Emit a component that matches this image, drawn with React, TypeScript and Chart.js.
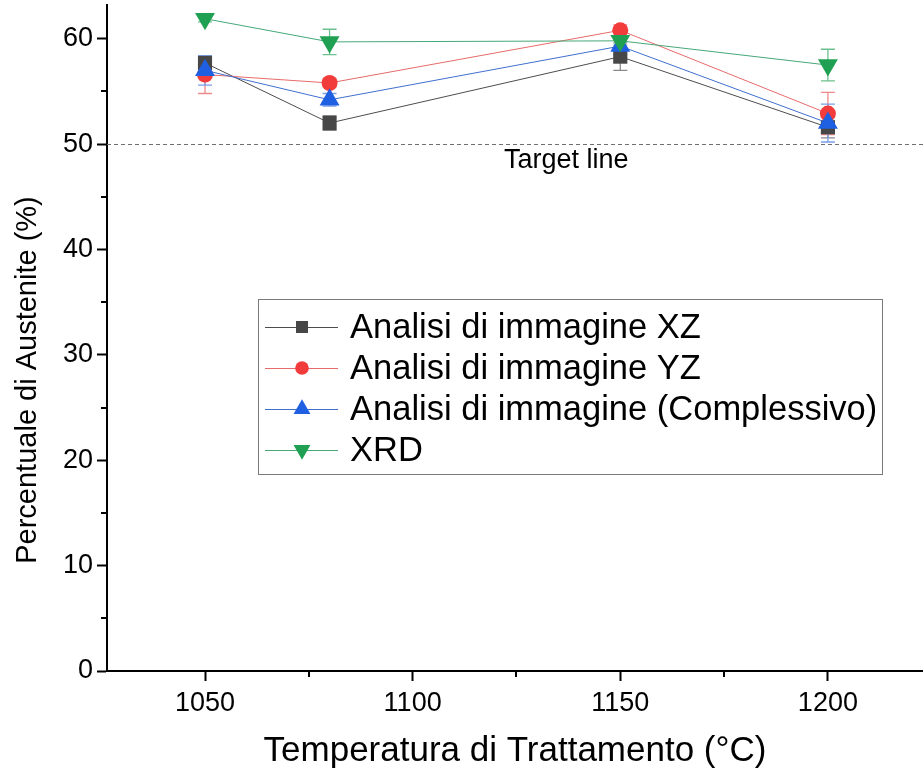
import React, { useEffect, useRef } from 'react';
import { Chart, registerables } from 'chart.js';

Chart.register(...registerables);

const temperatures = [1050, 1080, 1150, 1200];

const xzValues = [57.7, 52.0, 58.3, 51.6];
const xzErrors = [0.5, 0.7, 1.3, 1.0];
const yzValues = [56.6, 55.8, 60.8, 52.9];
const yzErrors = [1.8, 0.4, 0.5, 2.0];
const totalValues = [57.0, 54.2, 59.3, 52.0];
const totalErrors = [1.4, 0.6, 0.8, 1.8];
const xrdValues = [61.9, 59.7, 59.8, 57.5];
const xrdErrors = [0.3, 1.2, 0.4, 1.5];

const seriesNames = [
  'Analisi di immagine XZ',
  'Analisi di immagine YZ',
  'Analisi di immagine (Complessivo)',
  'XRD',
];

const xTicks = [1050, 1100, 1150, 1200];
const xMinorTicks = [1075, 1125, 1175];
const yTicks = [0, 10, 20, 30, 40, 50, 60];
const yMinorTicks = [5, 15, 25, 35, 45, 55];

const targetValue = 50;
const targetLabel = 'Target line';
const targetLabelX = 1137;

const xTitle = 'Temperatura di Trattamento (°C)';
const yTitle = 'Percentuale di Austenite (%)';

const FONT = '"Liberation Sans", Arial, sans-serif';

const styles = [
  { line: '#4d4d4d', fill: '#474747', err: '#8a8a8a', shape: 'rect', r: 10, rot: 0 },
  { line: '#e86a6a', fill: '#f23c3c', err: '#ef8a8a', shape: 'circle', r: 8, rot: 0 },
  { line: '#3f6fcf', fill: '#1f60e2', err: '#7a9ee6', shape: 'triangle', r: 11.5, rot: 0 },
  { line: '#46a877', fill: '#20a052', err: '#6cc08e', shape: 'triangle', r: 11.5, rot: 180 },
];

const seriesValues = [xzValues, yzValues, totalValues, xrdValues];
const seriesErrors = [xzErrors, yzErrors, totalErrors, xrdErrors];

function drawMarker(ctx: CanvasRenderingContext2D, shape: string, x: number, y: number, r: number, rot: number, color: string) {
  ctx.save();
  ctx.fillStyle = color;
  ctx.beginPath();
  if (shape === 'rect') {
    const s = r * Math.SQRT1_2;
    ctx.rect(x - s, y - s, 2 * s, 2 * s);
  } else if (shape === 'circle') {
    ctx.arc(x, y, r, 0, Math.PI * 2);
  } else {
    const a = (rot * Math.PI) / 180;
    for (let i = 0; i < 3; i++) {
      const ang = a + (i * 2 * Math.PI) / 3;
      const px = x + Math.sin(ang) * r;
      const py = y - Math.cos(ang) * r;
      if (i === 0) ctx.moveTo(px, py);
      else ctx.lineTo(px, py);
    }
    ctx.closePath();
  }
  ctx.fill();
  ctx.restore();
}

const decorPlugin = {
  id: 'decor',
  beforeDatasetsDraw(chart: any) {
    const { ctx, chartArea, scales } = chart;
    const xs = scales.x;
    const ys = scales.y;
    // target line
    ctx.save();
    ctx.strokeStyle = '#6e6e6e';
    ctx.lineWidth = 1;
    ctx.setLineDash([4, 3]);
    const ty = Math.round(ys.getPixelForValue(targetValue)) + 0.5;
    ctx.beginPath();
    ctx.moveTo(chartArea.left, ty);
    ctx.lineTo(chartArea.right, ty);
    ctx.stroke();
    ctx.setLineDash([]);
    ctx.fillStyle = '#000';
    ctx.font = `27px ${FONT}`;
    ctx.textAlign = 'center';
    ctx.textBaseline = 'alphabetic';
    ctx.fillText(targetLabel, xs.getPixelForValue(targetLabelX), ty + 23);
    ctx.restore();
    // error bars
    ctx.save();
    ctx.lineWidth = 1.3;
    seriesValues.forEach((vals, si) => {
      ctx.strokeStyle = styles[si].err;
      vals.forEach((v, i) => {
        const e = seriesErrors[si][i];
        const px = xs.getPixelForValue(temperatures[i]);
        const y1 = ys.getPixelForValue(v + e);
        const y2 = ys.getPixelForValue(v - e);
        ctx.beginPath();
        ctx.moveTo(px, y1);
        ctx.lineTo(px, y2);
        ctx.moveTo(px - 7, y1);
        ctx.lineTo(px + 7, y1);
        ctx.moveTo(px - 7, y2);
        ctx.lineTo(px + 7, y2);
        ctx.stroke();
      });
    });
    ctx.restore();
  },
  afterDraw(chart: any) {
    const { ctx, chartArea, scales } = chart;
    const xs = scales.x;
    const ys = scales.y;
    // minor ticks
    ctx.save();
    ctx.strokeStyle = '#000';
    ctx.lineWidth = 2;
    xMinorTicks.forEach((v) => {
      const px = Math.round(xs.getPixelForValue(v));
      ctx.beginPath();
      ctx.moveTo(px, chartArea.bottom);
      ctx.lineTo(px, chartArea.bottom + 6);
      ctx.stroke();
    });
    yMinorTicks.forEach((v) => {
      const py = Math.round(ys.getPixelForValue(v));
      ctx.beginPath();
      ctx.moveTo(chartArea.left, py);
      ctx.lineTo(chartArea.left - 6, py);
      ctx.stroke();
    });
    ctx.restore();
    // y title
    ctx.save();
    ctx.translate(28, 380);
    ctx.rotate(-Math.PI / 2);
    ctx.fillStyle = '#000';
    ctx.font = `29px ${FONT}`;
    ctx.textAlign = 'center';
    ctx.textBaseline = 'middle';
    ctx.fillText(yTitle, 0, 0);
    ctx.restore();
    // legend
    ctx.save();
    ctx.fillStyle = '#fff';
    ctx.fillRect(258.5, 299.5, 624, 175);
    ctx.strokeStyle = '#7a7a7a';
    ctx.lineWidth = 1;
    ctx.strokeRect(258.5, 299.5, 624, 175);
    seriesNames.forEach((name, i) => {
      const cy = 327 + i * 41;
      const st = styles[i];
      ctx.strokeStyle = st.line;
      ctx.lineWidth = 1;
      ctx.beginPath();
      ctx.moveTo(265, cy + 0.5);
      ctx.lineTo(338, cy + 0.5);
      ctx.stroke();
      drawMarker(ctx, st.shape, 302, cy, st.r * 0.85, st.rot, st.fill);
      ctx.fillStyle = '#000';
      ctx.font = `34.5px ${FONT}`;
      ctx.textAlign = 'left';
      ctx.textBaseline = 'middle';
      ctx.fillText(name, 350, cy + 1);
    });
    ctx.restore();
  },
};

export default function App() {
  const ref = useRef<HTMLCanvasElement>(null);
  useEffect(() => {
    if (!ref.current) return;
    Chart.defaults.font.family = FONT;
    const datasets = seriesValues.map((vals, si) => ({
      label: seriesNames[si],
      data: vals.map((v, i) => ({ x: temperatures[i], y: v })),
      showLine: true,
      borderColor: styles[si].line,
      borderWidth: 1,
      backgroundColor: styles[si].fill,
      pointBackgroundColor: styles[si].fill,
      pointBorderWidth: 0,
      pointBorderColor: styles[si].fill,
      pointStyle: styles[si].shape,
      pointRadius: styles[si].r,
      pointRotation: styles[si].rot,
      pointHoverRadius: styles[si].r,
      order: 4 - si,
      clip: false as any,
    }));
    const chart = new Chart(ref.current, {
      type: 'scatter',
      data: { datasets },
      options: {
        animation: false,
        responsive: false,
        events: [],
        layout: { autoPadding: false, padding: { top: 5, right: 0, left: 0, bottom: 0 } },
        plugins: { legend: { display: false }, tooltip: { enabled: false } },
        scales: {
          x: {
            type: 'linear',
            min: 1026.4,
            max: 1222.9,
            afterFit: (s: any) => { s.height = 104; s.paddingLeft = 0; s.paddingRight = 0; s.paddingTop = 0; s.paddingBottom = 0; },
            afterBuildTicks: (s: any) => { s.ticks = xTicks.map((v) => ({ value: v })); },
            grid: { display: true, drawOnChartArea: false, drawTicks: true, tickLength: 10, tickWidth: 2, tickColor: '#000' },
            border: { display: true, color: '#000', width: 2 },
            ticks: { color: '#000', font: { size: 27, family: FONT }, padding: 6, maxRotation: 0, autoSkip: false, callback: (v: any) => String(v) },
            title: { display: true, text: xTitle, color: '#000', font: { size: 35, family: FONT }, padding: { top: 0, bottom: 3 } },
          },
          y: {
            type: 'linear',
            min: 0,
            max: 63.2,
            afterFit: (s: any) => { s.width = 107; s.paddingTop = 0; s.paddingBottom = 0; s.paddingLeft = 0; s.paddingRight = 0; },
            afterBuildTicks: (s: any) => { s.ticks = yTicks.map((v) => ({ value: v })); },
            grid: { display: true, drawOnChartArea: false, drawTicks: true, tickLength: 10, tickWidth: 2, tickColor: '#000' },
            border: { display: true, color: '#000', width: 2 },
            ticks: { color: '#000', font: { size: 27, family: FONT }, padding: 4, autoSkip: false, callback: (v: any) => String(v) },
          },
        },
      },
      plugins: [decorPlugin],
    });
    return () => chart.destroy();
  }, []);
  return (
    <div style={{ position: 'absolute', left: 0, top: 0, width: 923, height: 775, background: '#fff' }}>
      <canvas ref={ref} width={923} height={775} style={{ display: 'block' }} />
    </div>
  );
}
